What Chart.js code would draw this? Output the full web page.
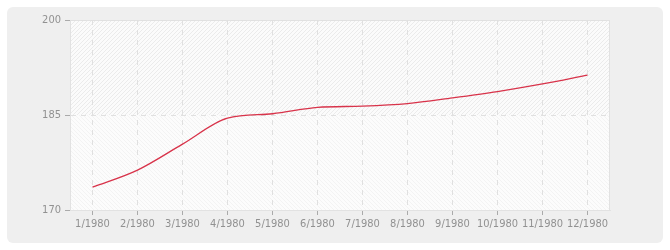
<!DOCTYPE html>
<html>
<head>
<meta charset="utf-8">
<script src="https://cdn.jsdelivr.net/npm/chart.js@4/dist/chart.umd.min.js"></script>
<style>
html,body{margin:0;padding:0;background:#fff;}
#wrap{width:670px;height:250px;position:relative;}
</style>
</head>
<body>
<div id="wrap"><canvas id="c" width="670" height="250"></canvas></div>
<script>
const categories = ["1/1980","2/1980","3/1980","4/1980","5/1980","6/1980","7/1980","8/1980","9/1980","10/1980","11/1980","12/1980"];
const values = [173.6, 176.3, 180.4, 184.5, 185.2, 186.2, 186.4, 186.8, 187.7, 188.7, 189.9, 191.3];
const yTicks = [170, 185, 200];

const panelPlugin = {
  id: 'panel',
  beforeDraw(chart) {
    const ctx = chart.ctx;
    ctx.save();
    ctx.fillStyle = '#efefef';
    ctx.beginPath();
    ctx.roundRect(7, 7, 656, 236, 6);
    ctx.fill();
    const a = chart.chartArea;
    const ys = chart.scales.y;
    const mid = ys.getPixelForValue(185);
    ctx.fillStyle = '#fbfbfb';
    ctx.fillRect(a.left, a.top, a.right - a.left, mid - a.top);
    ctx.fillStyle = '#fcfcfc';
    ctx.fillRect(a.left, mid, a.right - a.left, a.bottom - mid);
    ctx.save();
    ctx.beginPath();
    ctx.rect(a.left, a.top, a.right - a.left, mid - a.top);
    ctx.clip();
    ctx.strokeStyle = '#ebebeb';
    ctx.lineWidth = 1;
    for (let x = a.left - 300; x < a.right + 300; x += 4) {
      ctx.beginPath();
      ctx.moveTo(x, a.bottom);
      ctx.lineTo(x + (a.bottom - a.top), a.top);
      ctx.stroke();
    }
    ctx.restore();
    ctx.save();
    ctx.beginPath();
    ctx.rect(a.left, mid, a.right - a.left, a.bottom - mid);
    ctx.clip();
    ctx.strokeStyle = '#f3f3f3';
    for (let x = a.left - 300; x < a.right + 300; x += 4) {
      ctx.beginPath();
      ctx.moveTo(x, a.bottom);
      ctx.lineTo(x - (a.bottom - a.top), a.top);
      ctx.stroke();
    }
    ctx.restore();
    ctx.strokeStyle = '#e2e2e2';
    ctx.lineWidth = 1;
    ctx.strokeRect(a.left + 0.5, a.top + 0.5, a.right - a.left - 1, a.bottom - a.top);
    ctx.restore();
  }
};

const font = { family: 'DejaVu Sans Condensed, DejaVu Sans', size: 11 };

new Chart(document.getElementById('c'), {
  type: 'line',
  data: {
    labels: categories,
    datasets: [{
      data: values,
      borderColor: '#d8334a',
      borderWidth: 1.3,
      pointRadius: 0,
      tension: 0.4,
      cubicInterpolationMode: 'monotone',
      fill: false
    }]
  },
  options: {
    responsive: false,
    animation: false,
    events: [],
    layout: { padding: { left: 0, right: 60, top: 20, bottom: 0 } },
    plugins: { legend: { display: false }, tooltip: { enabled: false } },
    scales: {
      x: {
        offset: true,
        grid: { offset: false, color: '#e0e0e0', tickColor: '#aaaaaa', tickLength: 5, tickBorderDash: [] },
        border: { display: true, color: '#e2e2e2', dash: [5, 5] },
        ticks: { color: '#919191', font: font, padding: 3, maxRotation: 0, autoSkip: false },
        afterFit(s) { s.height = 40; }
      },
      y: {
        min: 170, max: 200,
        afterBuildTicks(s) { s.ticks = yTicks.map(v => ({ value: v })); },
        grid: { color: '#e0e0e0', tickColor: '#aaaaaa', tickLength: 5, tickBorderDash: [] },
        border: { display: true, color: '#e2e2e2', dash: [5, 5] },
        ticks: { color: '#919191', font: font, padding: 4 },
        afterFit(s) { s.width = 70; }
      }
    }
  },
  plugins: [panelPlugin]
});
</script>
</body>
</html>
